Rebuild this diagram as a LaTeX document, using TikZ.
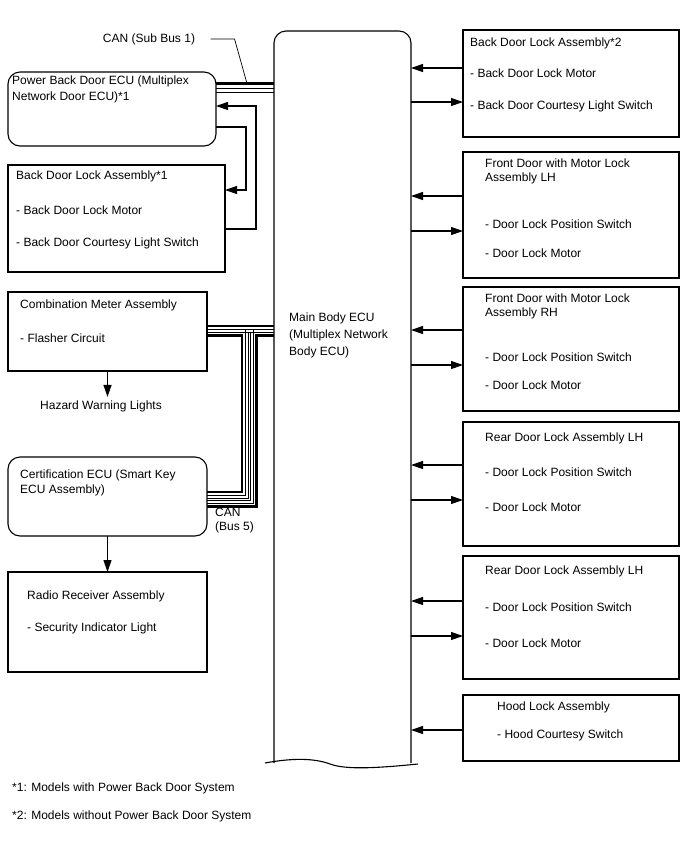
\documentclass[tikz,border=0pt]{standalone}
\usepackage{fontspec}
\setmainfont{Liberation Sans}
\usetikzlibrary{arrows.meta,calc,positioning}

\begin{document}
\begin{tikzpicture}[x=1pt,y=-1pt,
  every node/.style={font=\fontsize{12}{14}\selectfont},
  box/.style={draw,line width=1.1pt,inner sep=0pt,outer sep=0pt,anchor=north west},
  rbox/.style={box,rounded corners=12pt},
  lbl/.style={anchor=west,inner sep=0pt},
  sig/.style={line width=1.1pt,-{Triangle[length=12pt,width=8pt]}},
  wire/.style={line width=1.1pt},
  canthick/.style={line width=2.6pt},
  canthin/.style={line width=0.8pt}]
\useasboundingbox (0,0) rectangle (688,852);

% main body ECU
\node[inner sep=0pt,outer sep=0pt,anchor=north west,minimum width=137pt,minimum height=732pt] (ecu) at (274,31) {};
\draw[wire,rounded corners=12pt] (ecu.south west) -- (ecu.north west) -- (ecu.north east) -- (ecu.south east);
\draw[wire] (265,763) .. controls (292,758) and (314,758) .. (330,764)
  .. controls (346,770) and (378,768) .. (418,764);
\node[lbl] (ecu1) at (289,318) {Main Body ECU};
\node[lbl] (ecu2) at (289,335) {(Multiplex Network};
\node[lbl] (ecu3) at (289,352) {Body ECU)};

% left side
\node[rbox,minimum width=208pt,minimum height=74pt] (pbd) at (8,72) {};
\node[lbl] (pbd1) at (12,81) {Power Back Door ECU (Multiplex};
\node[lbl] (pbd2) at (12,97) {Network Door ECU)*1};

\node[box,minimum width=217pt,minimum height=107pt] (bdla1) at (8,165) {};
\node[lbl] (bdla1a) at (16,176) {Back Door Lock Assembly*1};
\node[lbl] (bdla1b) at (16,210) {- Back Door Lock Motor};
\node[lbl] (bdla1c) at (16,243) {- Back Door Courtesy Light Switch};

\node[box,minimum width=199pt,minimum height=79pt] (meter) at (8,292) {};
\node[lbl] (meter1) at (20,305) {Combination Meter Assembly};
\node[lbl] (meter2) at (20,338) {- Flasher Circuit};
\node (haz) at (101,406) {Hazard Warning Lights};

\node[rbox,minimum width=199pt,minimum height=79pt] (cert) at (8,457) {};
\node[lbl] (cert1) at (20,475) {Certification ECU (Smart Key};
\node[lbl] (cert2) at (20,490) {ECU Assembly)};

\node[box,minimum width=199pt,minimum height=100pt] (radio) at (8,572) {};
\node[lbl] (radio1) at (27,596) {Radio Receiver Assembly};
\node[lbl] (radio2) at (27,628) {- Security Indicator Light};

% right side
\node[box,minimum width=216pt,minimum height=107pt] (rb1) at (463,30) {};
\node[lbl] (rb1a) at (470,43) {Back Door Lock Assembly*2};
\node[lbl] (rb1b) at (470,73) {- Back Door Lock Motor};
\node[lbl] (rb1c) at (470,106) {- Back Door Courtesy Light Switch};

\node[box,minimum width=216pt,minimum height=126pt] (rb2) at (463,152) {};
\node[lbl] (rb2a) at (485,163) {Front Door with Motor Lock};
\node[lbl] (rb2b) at (485,178) {Assembly LH};
\node[lbl] (rb2c) at (485,224) {- Door Lock Position Switch};
\node[lbl] (rb2d) at (485,253) {- Door Lock Motor};

\node[box,minimum width=216pt,minimum height=124pt] (rb3) at (463,287) {};
\node[lbl] (rb3a) at (485,298) {Front Door with Motor Lock};
\node[lbl] (rb3b) at (485,313) {Assembly RH};
\node[lbl] (rb3c) at (485,357) {- Door Lock Position Switch};
\node[lbl] (rb3d) at (485,385) {- Door Lock Motor};

\node[box,minimum width=216pt,minimum height=124pt] (rb4) at (463,422) {};
\node[lbl] (rb4a) at (485,438) {Rear Door Lock Assembly LH};
\node[lbl] (rb4b) at (485,472) {- Door Lock Position Switch};
\node[lbl] (rb4c) at (485,507) {- Door Lock Motor};

\node[box,minimum width=216pt,minimum height=123pt] (rb5) at (463,556) {};
\node[lbl] (rb5a) at (485,571) {Rear Door Lock Assembly LH};
\node[lbl] (rb5b) at (485,607) {- Door Lock Position Switch};
\node[lbl] (rb5c) at (485,643) {- Door Lock Motor};

\node[box,minimum width=216pt,minimum height=66pt] (rb6) at (463,695) {};
\node[lbl] (rb6a) at (497,707) {Hood Lock Assembly};
\node[lbl] (rb6b) at (497,735) {- Hood Courtesy Switch};

% footnotes
\node[lbl] (fn1) at (12,788) {*1: Models with Power Back Door System};
\node[lbl] (fn2) at (12,816) {*2: Models without Power Back Door System};

% signals right
\draw[sig] (rb1.west |- 0,68) -- (ecu.east |- 0,68);
\draw[sig] (ecu.east |- 0,102) -- (rb1.west |- 0,102);
\draw[sig] (rb2.west |- 0,196) -- (ecu.east |- 0,196);
\draw[sig] (ecu.east |- 0,231) -- (rb2.west |- 0,231);
\draw[sig] (rb3.west |- 0,330) -- (ecu.east |- 0,330);
\draw[sig] (ecu.east |- 0,365) -- (rb3.west |- 0,365);
\draw[sig] (rb4.west |- 0,465) -- (ecu.east |- 0,465);
\draw[sig] (ecu.east |- 0,500) -- (rb4.west |- 0,500);
\draw[sig] (rb5.west |- 0,601) -- (ecu.east |- 0,601);
\draw[sig] (ecu.east |- 0,636) -- (rb5.west |- 0,636);
\draw[sig] (rb6.west |- 0,730) -- (ecu.east |- 0,730);

% signals left
\draw[sig] (bdla1.east |- 0,229) -- (256,229) -- (256,106) -- (pbd.east |- 0,106);
\draw[sig] (pbd.east |- 0,127) -- (246,127) -- (246,190) -- (bdla1.east |- 0,190);
\draw[sig] (meter.south) -- (meter.south |- haz.north);
\draw[sig] (cert.south) -- (radio.north);

% CAN sub bus 1
\draw[canthick] (pbd.east |- 0,83.5) -- (ecu.west |- 0,83.5);
\draw[canthin] (pbd.east |- 0,88) -- (ecu.west |- 0,88);
\draw[canthin] (pbd.east |- 0,92) -- (ecu.west |- 0,92);
\node (can1) at (149,39) {CAN (Sub Bus 1)};
\coordinate (tap1) at (247,83.5);
\draw[line width=0.7pt] ([xshift=12pt]can1.east) -- ++(24,0) -- (tap1);

% CAN bus 5
\draw[canthick] (meter.east |- 0,326) -- (ecu.west |- 0,326);
\draw[canthin] (meter.east |- 0,329.5) -- (ecu.west |- 0,329.5);
\draw[canthin] (meter.east |- 0,332) -- (ecu.west |- 0,332);
\draw[canthick] (meter.east |- 0,335.5) -- (242,335.5) -- (242,492) -- (cert.east |- 0,492);
\draw[canthin] (245.5,329.5) -- (245.5,495.5) -- (cert.east |- 0,495.5);
\draw[canthin] (248,332) -- (248,498) -- (cert.east |- 0,498);
\draw[canthin] (250.5,332) -- (250.5,500.5) -- (cert.east |- 0,500.5);
\draw[canthin] (253,329.5) -- (253,503) -- (cert.east |- 0,503);
\draw[canthick] (ecu.west |- 0,335.5) -- (256.5,335.5) -- (256.5,506.5) -- (cert.east |- 0,506.5);
\node[lbl] (can5a) at (215,512) {CAN};
\node[lbl] (can5b) at (215,527) {(Bus 5)};
\end{tikzpicture}
\end{document}
